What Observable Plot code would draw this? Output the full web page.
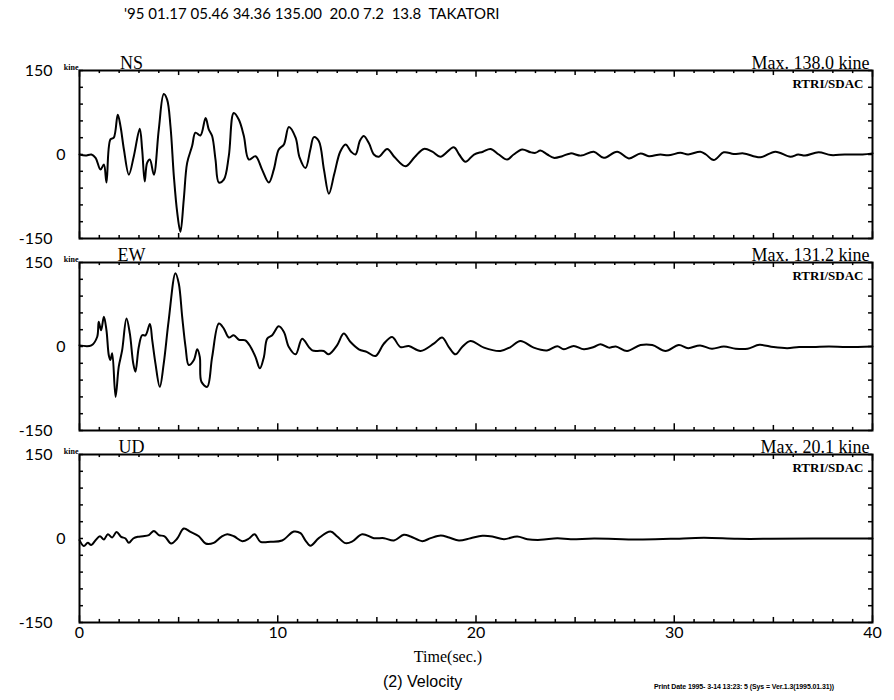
<!DOCTYPE html>
<html><head><meta charset="utf-8">
<script src="https://cdn.jsdelivr.net/npm/d3@7"></script>
<script src="https://cdn.jsdelivr.net/npm/@observablehq/plot@0.6"></script>
<style>
body{margin:0;background:#fff;}
#page{position:relative;width:894px;height:700px;background:#fff;font-family:Lato,sans-serif;color:#000;overflow:hidden;}
.abs{position:absolute;white-space:pre;line-height:1;}
.panel{position:absolute;left:0;}
</style></head><body><div id="page"></div>
<script>
// ---------- text ----------
const titleText = "'95 01.17 05.46 34.36 135.00  20.0 7.2  13.8  TAKATORI";
const captionText = "(2) Velocity";
const footerText = "Print Date 1995- 3-14 13:23: 5 (Sys = Ver.1.3(1995.01.31))";
const xLabel = "Time(sec.)";
const unitLabel = "kine";
const sourceLabel = "RTRI/SDAC";
const components = ["NS", "EW", "UD"];
const maxLabels = ["Max. 138.0 kine", "Max. 131.2 kine", "Max. 20.1 kine"];
const xTickLabels = [0, 10, 20, 30, 40];
const yTickLabels = [150, 0, -150];

// ---------- NS velocity (kine) ----------
const nsTime = [0,0.3,0.6,0.81,1.06,1.23,1.36,1.56,1.73,1.93,2.07,2.24,2.49,2.74,3.04,3.16,3.29,3.41,3.55,3.75,4.0,4.25,4.42,4.59,4.76,4.93,5.09,5.26,5.43,5.68,5.85,6.1,6.36,6.52,6.69,6.86,7.03,7.28,7.53,7.78,8.04,8.29,8.54,8.88,9.21,9.55,9.8,10.05,10.31,10.56,10.9,11.1,11.4,11.65,11.82,12.07,12.33,12.58,12.85,13.15,13.42,13.7,13.92,14.15,14.34,14.6,14.85,15.1,15.52,15.9,16.44,16.9,17.37,17.8,18.2,18.88,19.15,19.47,19.9,20.35,20.73,21.15,21.57,21.9,22.33,22.75,23.0,23.25,23.6,23.92,24.35,24.77,25.3,25.94,26.44,27.12,27.71,28.3,28.72,29.3,29.7,30.31,30.7,31.32,31.6,31.99,32.5,33.0,33.5,34.34,35.1,35.86,36.25,36.6,37.28,37.9,38.6,39.5,40];
const nsVel  = [0,-2,0,-6,-27,-18,-50,27,30,71,50,9,-36,-3,46,9,-48,-15,-9,-36,45,108,98,50,-39,-104,-138,-80,-15,15,39,34,65,45,33,-9,-50,-45,-3,74,62,33,-9,-3,-27,-50,-27,9,18,49,30,-5,-24,10,31,24,-27,-70,-35,5,18,5,0,25,33,20,0,-4,10,-5,-21,-5,10,5,-4,13,0,-13,0,5,10,0,-9,0,9,4,3,7,0,-6,-3,2,-2,5,-6,5,-7,2,-3,0,-1.5,3,0,5,0,-10,4,1,2,-5,5,-4,0,-2,4,-1,0,0,2];

// ---------- EW velocity (kine) ----------
const ewTime = [0,0.6,0.89,0.97,1.09,1.23,1.36,1.48,1.56,1.65,1.82,1.98,2.15,2.37,2.54,2.71,2.82,2.99,3.16,3.33,3.55,3.67,3.83,4.05,4.25,4.5,4.84,5.01,5.18,5.35,5.51,5.77,5.94,6.07,6.15,6.44,6.69,7.03,7.28,7.53,7.78,8.04,8.37,8.63,8.88,9.1,9.3,9.47,9.72,10.05,10.31,10.56,10.9,11.23,11.57,11.74,11.99,12.32,12.57,12.99,13.33,13.67,14.09,14.51,14.93,15.35,15.77,16.19,16.61,17.2,17.87,18.29,18.63,18.97,19.3,19.72,20.4,21.23,21.74,22.24,22.91,23.58,24.1,24.43,24.93,25.44,25.94,26.28,26.7,27.05,27.62,28.3,28.89,29.56,30.23,30.7,31.3,31.9,32.5,33.1,33.7,34.3,35.0,35.7,36.3,37.0,37.8,38.7,40];
const ewVel  = [2,2,17,44,29,53,29,-16,-24,-12,-90,-36,-7,50,23,-30,-45,-1,20,20,40,11,-30,-72,-30,47,131,112,53,-1,-33,-24,-5,-19,-63,-72,-19,41,32,16,20,12,11,-1,-19,-39,-19,14,20,36,26,-1,-14,14,-1,-7,-8,-8,-14,2,23,8,-5,-10,-17,5,17,-1,1,-8,5,16,-1,-14,-1,10,-2,-8,-1,10,-2,-7,0.5,-5,1,-5,-1,4,-2,0,-8,2.5,2.5,-8,2.5,-3,2,-4,0,-4,-4,3,-1,-3,-1,-1,0,-1,0];

// ---------- UD velocity (kine) ----------
const udTime = [0,0.22,0.42,0.59,0.81,1.03,1.23,1.43,1.65,1.87,2.1,2.32,2.49,2.71,2.94,3.21,3.5,3.75,4.0,4.29,4.62,4.93,5.26,5.6,6.02,6.36,6.77,7.15,7.45,7.79,8.21,8.55,8.83,9.13,9.64,10.22,10.81,11.15,11.4,11.65,12.07,12.66,13.0,13.42,13.76,14.26,14.85,15.36,15.86,16.36,16.7,17.29,17.71,18.22,18.64,19.14,19.73,20.32,20.82,21.41,22.08,22.59,23.26,24.1,24.78,25.96,28.14,29.82,31.5,33.18,34.86,37.0,40];
const udVel  = [-3,-13.6,-7.7,-11.8,-3,4,-1.8,7.7,1.8,11.8,3,0,-7.7,0,3,4,6,13.6,6,4,-8.9,0,17.8,11.8,4,-8.9,-7.7,3,7.7,4,-4.7,0,7.7,-5.9,-5.9,-3.6,12.4,9.5,-3.6,-13,0.6,12.4,3.6,-8.3,-5.3,7.7,0.6,0.6,-3.6,6.5,3.6,-4.7,0.6,5.3,1.8,-3.6,0.6,4.7,3.6,-1.2,3.6,-1.2,-2.4,0.6,-1.2,0,-1.8,-0.6,1.2,-0.6,-0.6,0,0];

const times = [nsTime, ewTime, udTime];
const vels = [nsVel, ewVel, udVel];

// ---------- layout ----------
const page = document.getElementById("page");
function addText(txt, style) {
  const d = document.createElement("div");
  d.className = "abs";
  d.textContent = txt;
  Object.assign(d.style, style);
  page.appendChild(d);
}
addText(titleText, {left: "124px", top: "6px", fontSize: "15px", fontFamily: "Lato"});
addText(captionText, {left: "383px", top: "674px", fontSize: "16px", fontFamily: "'Liberation Sans', Arial, sans-serif"});
addText(footerText, {left: "654px", top: "683px", fontSize: "7px", fontWeight: "bold", fontFamily: "'Liberation Sans', Arial, sans-serif", letterSpacing: "-0.1px"});

const serif = "'Liberation Serif', 'DejaVu Serif', serif";
const minorTicks = d3.range(0, 41, 1);
const yTicks = d3.range(-150, 151, 30);
const tickLen = t => t % 10 === 0 ? 12 : t % 5 === 0 ? 9 : 5.5;
const panels = [{top: 50, mt: 20, mb: 12}, {top: 250, mt: 12, mb: 12}, {top: 442, mt: 12, mb: 78}];

components.forEach((name, i) => {
  const data = times[i].map((t, k) => ({t, v: vels[i][k]}));
  const P = panels[i];
  const marks = [
    Plot.line(data, {x: "t", y: "v", stroke: "#000", strokeWidth: 2, curve: "catmull-rom", strokeLinejoin: "round"}),
    Plot.ruleX(minorTicks, {x: d => d, y1: 150, y2: d => 150 - tickLen(d), stroke: "#000", strokeWidth: 1.5}),
    Plot.ruleX(minorTicks, {x: d => d, y1: -150, y2: d => -150 + tickLen(d), stroke: "#000", strokeWidth: 1.5}),
    Plot.ruleY(yTicks, {y: d => d, x1: 0, x2: 0.2, stroke: "#000", strokeWidth: 1.5}),
    Plot.ruleY(yTicks, {y: d => d, x1: 40, x2: 39.8, stroke: "#000", strokeWidth: 1.5}),
    Plot.frame({stroke: "#000", strokeWidth: 2}),
    Plot.text([name], {frameAnchor: "top-left", dx: 52, dy: -2, lineAnchor: "bottom", text: d => d, fontSize: 18, fontFamily: serif, textAnchor: "middle"}),
    Plot.text([unitLabel], {frameAnchor: "top-left", dx: -1, dy: -1, lineAnchor: "bottom", text: d => d, fontSize: 8, fontWeight: "bold", fontFamily: serif, textAnchor: "end"}),
    Plot.text([maxLabels[i]], {frameAnchor: "top-right", dx: -3, dy: -2, lineAnchor: "bottom", text: d => d, fontSize: 18, fontFamily: serif, textAnchor: "end"}),
    Plot.text([sourceLabel], {frameAnchor: "top-right", dx: -9, dy: 8, text: d => d, fontSize: 13, fontWeight: "bold", fontFamily: serif, textAnchor: "end"}),
    Plot.text(yTickLabels.filter(d => d !== 0), {y: d => d, frameAnchor: "left", dx: -27, text: d => String(d), fontSize: 16, textAnchor: "end"}),
    Plot.text(yTickLabels.filter(d => d === 0), {y: d => d, frameAnchor: "left", dx: -14, text: d => String(d), fontSize: 16, textAnchor: "end"})
  ];
  if (i === components.length - 1) {
    marks.push(Plot.text(xTickLabels, {x: d => d, frameAnchor: "bottom", dy: 15, text: d => String(d), fontSize: 16}));
    marks.push(Plot.text([xLabel], {frameAnchor: "bottom", dx: -28, dy: 39, text: d => d, fontSize: 16, fontFamily: serif}));
  }
  const svg = Plot.plot({
    width: 894,
    height: P.mt + 168 + P.mb,
    marginLeft: 79,
    marginRight: 22,
    marginTop: P.mt,
    marginBottom: P.mb,
    x: {domain: [0, 40], axis: null},
    y: {domain: [-150, 150], axis: null},
    style: {background: "transparent", fontFamily: "Lato", overflow: "visible", color: "#000"},
    marks
  });
  svg.classList.add("panel");
  svg.style.top = P.top + "px";
  svg.style.position = "absolute";
  page.appendChild(svg);
});
</script>
</body></html>
